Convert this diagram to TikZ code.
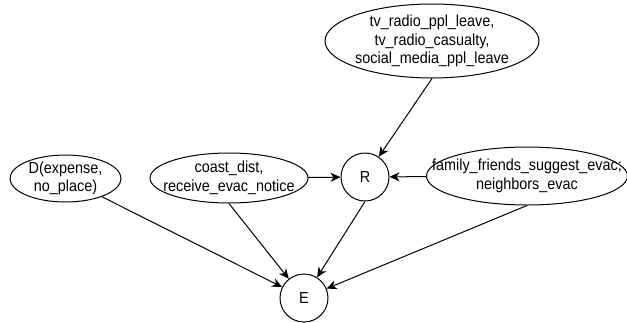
\documentclass[tikz,border=0pt]{standalone}
\usepackage{fontspec}
\setmainfont{Liberation Sans}[FakeStretch=0.9]
\usetikzlibrary{shapes.geometric,arrows.meta}
\begin{document}
\begin{tikzpicture}[x=1pt,y=-1pt,
  ell/.style={draw,ellipse,inner sep=0pt,line width=1pt,fill=white},
  lbl/.style={align=center,font=\fontsize{16}{18.5}\selectfont,inner sep=0pt},
  circ/.style={draw,circle,inner sep=0pt,minimum size=48pt,line width=1pt,fill=white,font=\fontsize{16}{18.5}\selectfont},
  arr/.style={-{Stealth[length=10pt,width=9pt,inset=3pt]},line width=1pt}]
\useasboundingbox (0,0) rectangle (627,322);
% ellipses
\node[ell,minimum width=214pt,minimum height=74pt] (top) at (432,41) {};
\node[lbl] (topt) at (top.center) {tv\_radio\_ppl\_leave,\\tv\_radio\_casualty,\\social\_media\_ppl\_leave};
\node[ell,minimum width=111pt,minimum height=47pt] (D) at (65.5,178.5) {};
\node[lbl] (Dt) at (D.center) {D(expense,\\no\_place)};
\node[ell,minimum width=158pt,minimum height=50pt] (coast) at (229,178) {};
\node[lbl] (coastt) at (coast.center) {coast\_dist,\\receive\_evac\_notice};
\node[ell,minimum width=201pt,minimum height=58pt] (fam) at (527,176) {};
\node[lbl] (famt) at (fam.center) {family\_friends\_suggest\_evac;\\neighbors\_evac};
% circles
\node[circ] (R) at (365,177) {R};
\node[circ] (E) at (304,298) {E};
% edges
\draw[arr] (top.south) -- (R);
\draw[arr] (coast) -- (R);
\draw[arr] (fam) -- (R);
\draw[arr] (R.south) -- (E);
\draw[arr] (coast.south) -- (E);
\draw[arr] (D) -- (E);
\draw[arr] (fam.south) -- (E);
\end{tikzpicture}
\end{document}
